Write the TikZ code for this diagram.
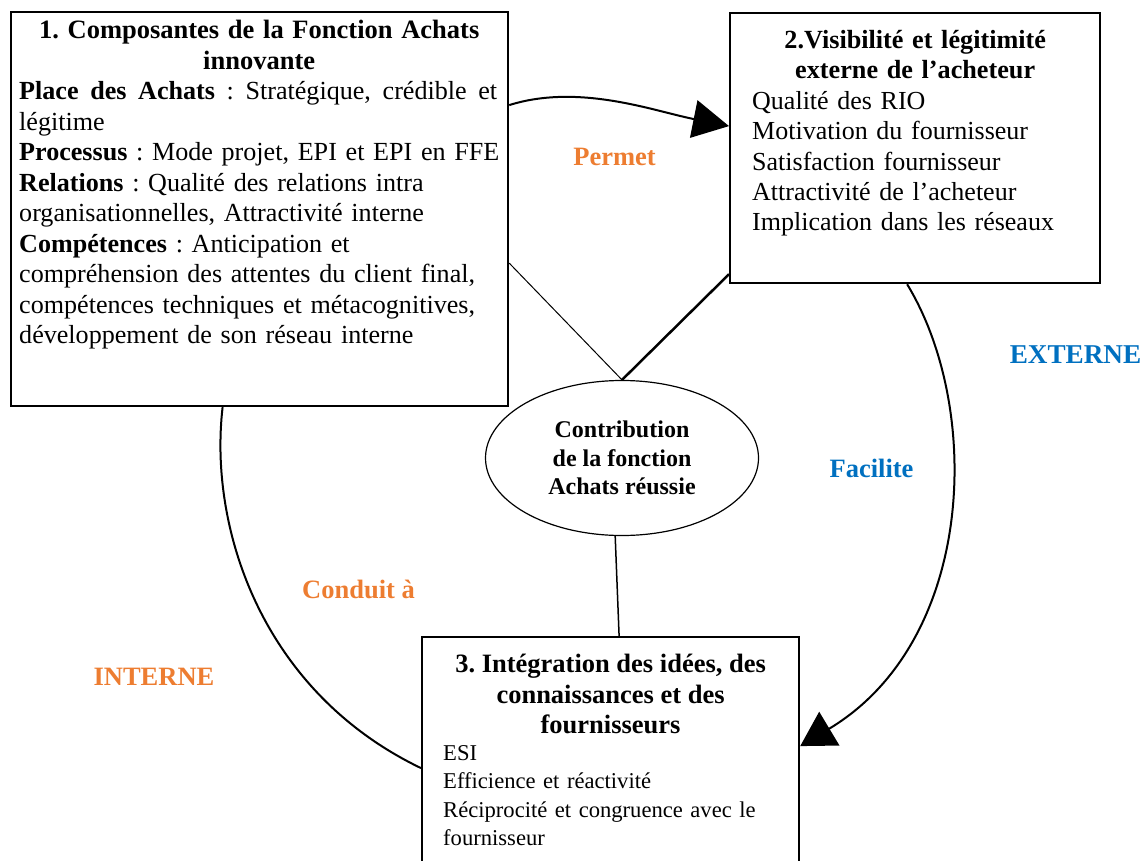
\documentclass[tikz,border=0pt]{standalone}
\usepackage{fontspec}
\setmainfont{Liberation Serif}
\frenchspacing
\usetikzlibrary{positioning, arrows.meta, shapes.geometric, calc}
\definecolor{cOrange}{HTML}{ED7D31}
\definecolor{cBlue}{HTML}{0070C0}

\begin{document}
\begin{tikzpicture}[
  x=1pt, y=-1pt,
  box/.style={
    draw, line width=2.2pt, inner sep=0pt, anchor=north west
  },
  boxtext/.style={
    inner sep=0pt, anchor=north west, align=left, text width=#1,
    font=\fontsize{26.1}{30.5}\selectfont
  },
  tag/.style={
    inner sep=0pt, anchor=base, text=#1,
    font=\bfseries\fontsize{26.5}{30.5}\selectfont
  },
  link/.style={
    line width=2pt, -{Triangle[length=36pt, width=38pt]}
  },
]
\useasboundingbox (0,0) rectangle (1145,861);

% the three boxes
\node[box, minimum width=497pt, minimum height=394pt] (comp) at (10,11) {};
\node[box, minimum width=370pt, minimum height=270pt] (visi) at (729,12) {};
\node[box, minimum width=377pt, minimum height=250pt] (integ) at (421,636) {};

% central goal
\node[ellipse, draw, line width=1.2pt, minimum width=273pt, minimum height=155pt,
      inner sep=0pt, align=center,
      font=\bfseries\fontsize{24}{28.5}\selectfont] (goal) at (622,458)
  {Contribution\\ de la fonction\\ Achats réussie};

% box contents
\node[boxtext=492pt] (comptxt) at ([xshift=9pt, yshift=-9pt]comp.north west) {%
  \makebox[480pt][c]{\bfseries\fontsize{26.5}{30.5}\selectfont 1. Composantes de la Fonction Achats}\\
  \makebox[480pt][c]{\bfseries\fontsize{26.5}{30.5}\selectfont innovante}\\
  \makebox[478pt][s]{\textbf{Place}\hfill\textbf{des}\hfill\textbf{Achats}\hfill:\hfill
    Stratégique,\hfill crédible\hfill et}\\
  légitime\\
  \textbf{Processus} : Mode projet, EPI et EPI en FFE\\
  \textbf{Relations} : Qualité des relations intra\\
  organisationnelles, Attractivité interne\\
  \textbf{Compétences} : Anticipation et\\
  compréhension des attentes du client final,\\
  compétences techniques et métacognitives,\\
  développement de son réseau interne};

\node[boxtext=340pt, font=\fontsize{26}{30.4}\selectfont] (visitxt)
  at ([xshift=23pt, yshift=-18pt]visi.north west) {%
  \makebox[326pt][c]{\bfseries\fontsize{26.2}{30.4}\selectfont 2.Visibilité et légitimité}\\
  \makebox[326pt][c]{\bfseries\fontsize{26.2}{30.4}\selectfont externe de l’acheteur}\\
  Qualité des RIO\\
  Motivation du fournisseur\\
  Satisfaction fournisseur\\
  Attractivité de l’acheteur\\
  Implication dans les réseaux};

\node[inner sep=0pt, anchor=north, align=center,
      font=\bfseries\fontsize{26.5}{30.5}\selectfont] (integtitle)
  at ([yshift=-18pt]integ.north)
  {3. Intégration des idées, des\\ connaissances et des\\ fournisseurs};
\node[boxtext=350pt, font=\fontsize{22.6}{28.5}\selectfont] (integtxt)
  at ([xshift=22pt, yshift=-109pt]integ.north west) {%
  ESI\\
  Efficience et réactivité\\
  Réciprocité et congruence avec le\\
  fournisseur};

% side labels
\node[tag=cOrange] (permet) at (614.5,166) {Permet};
\node[tag=cBlue, font=\bfseries\fontsize{27.2}{30.5}\selectfont] (externe) at (1075.5,363) {EXTERNE};
\node[tag=cBlue] (facilite) at (871.5,477) {Facilite};
\node[tag=cOrange] (conduit) at (358.5,598) {Conduit à};
\node[tag=cOrange] (interne) at (154,685) {INTERNE};

% cycle
\draw[link] ([yshift=104pt]comp.east)
  .. controls +(70,-22) and +(-75,-15) .. ([yshift=22pt]visi.west);
\draw[link, -{Triangle[length=34pt, width=39pt]}] ([xshift=-8pt]visi.south)
  .. controls +(76,125) and +(175,-105) .. ([yshift=16pt]integ.east);
\draw[line width=2pt] ([xshift=-37pt]comp.south)
  .. controls +(-14,120) and +(-160,-77) .. ([yshift=-6pt]integ.west);

% links to the goal
\draw[line width=1pt] ([yshift=-54pt]comp.east) -- (goal.north);
\draw[line width=2.5pt] ([yshift=10pt]visi.south west) -- (goal.north);
\draw[line width=1.5pt] (goal.-95) -- ([xshift=8.5pt]integ.north);

\end{tikzpicture}
\end{document}
